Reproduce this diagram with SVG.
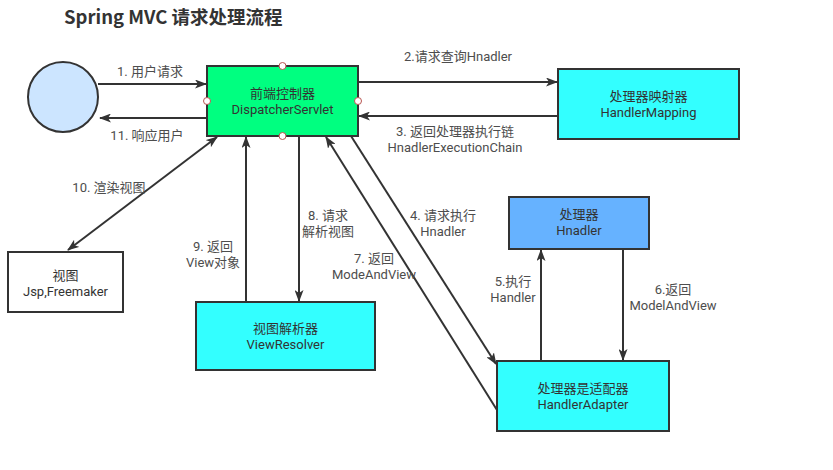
<svg xmlns="http://www.w3.org/2000/svg" width="833" height="470" viewBox="0 0 833 470">
<defs>
<style>
.node{stroke:#333;stroke-width:2}
.nt{font-family:Roboto,"Noto Sans CJK SC",sans-serif;font-size:13px;fill:#333;text-anchor:middle}
.lb{font-family:Roboto,"Noto Sans CJK SC",sans-serif;font-size:13px;fill:#4d4d4d;text-anchor:middle}
.ln{stroke:#333;stroke-width:2;fill:none}
.pt{fill:#fff;stroke:#b85450;stroke-width:1}
</style>
<marker id="ah" viewBox="0 0 12 9" refX="11" refY="4.5" markerWidth="12" markerHeight="9" markerUnits="userSpaceOnUse" orient="auto-start-reverse">
<path d="M0,0 L12,4.5 L0,9 L3,4.5 Z" fill="#333"/>
</marker>
</defs>
<rect width="833" height="470" fill="#fff"/>
<text x="64" y="24" style="font-family:'Noto Sans CJK SC','Noto Sans',sans-serif;font-size:18.5px;font-weight:bold;fill:#333">Spring MVC 请求处理流程</text>

<g id="connectors">
<line class="ln" x1="98" y1="84" x2="206" y2="84" marker-end="url(#ah)"/>
<line class="ln" x1="207" y1="118" x2="100" y2="118" marker-end="url(#ah)"/>
<line class="ln" x1="358" y1="82" x2="557" y2="82" marker-end="url(#ah)"/>
<line class="ln" x1="558" y1="116" x2="359" y2="116" marker-end="url(#ah)"/>
<line class="ln" x1="351" y1="136" x2="496" y2="364" marker-end="url(#ah)"/>
<line class="ln" x1="541" y1="361" x2="541" y2="250" marker-end="url(#ah)"/>
<line class="ln" x1="623" y1="248" x2="623" y2="360" marker-end="url(#ah)"/>
<line class="ln" x1="497" y1="410" x2="326" y2="137" marker-end="url(#ah)"/>
<line class="ln" x1="299" y1="136" x2="299" y2="301" marker-end="url(#ah)"/>
<line class="ln" x1="246" y1="302" x2="246" y2="137" marker-end="url(#ah)"/>
<line class="ln" x1="68" y1="250" x2="217" y2="137" marker-start="url(#ah)" marker-end="url(#ah)"/>
<text class="lb" x="150" y="75.5">1. 用户请求</text>
<text class="lb" x="147" y="139.5">11. 响应用户</text>
<text class="lb" x="458" y="61">2.请求查询Hnadler</text>
<text class="lb" x="455" y="136">3. 返回处理器执行链</text>
<text class="lb" x="455" y="152">HnadlerExecutionChain</text>
<text class="lb" x="443" y="219.5">4. 请求执行</text>
<text class="lb" x="443" y="236">Hnadler</text>
<text class="lb" x="513" y="285.5">5.执行</text>
<text class="lb" x="513" y="301.5">Handler</text>
<text class="lb" x="673" y="293.5">6.返回</text>
<text class="lb" x="673" y="310">ModelAndView</text>
<text class="lb" x="374" y="262.5">7. 返回</text>
<text class="lb" x="374" y="278.5">ModeAndView</text>
<text class="lb" x="328" y="219.5">8. 请求</text>
<text class="lb" x="328" y="235.5">解析视图</text>
<text class="lb" x="213" y="251">9. 返回</text>
<text class="lb" x="213" y="267">View对象</text>
<text class="lb" x="109" y="191.5">10. 渲染视图</text>
</g>

<g id="user">
<circle class="node" cx="63" cy="97" r="35" fill="#cce5ff"/>
</g>

<g id="dispatcher">
<rect class="node" x="207" y="66" width="151" height="70" fill="#00ff80"/>
<text class="nt" x="282.5" y="98">前端控制器</text>
<text class="nt" x="282.5" y="114">DispatcherServlet</text>
<circle class="pt" cx="282.5" cy="66" r="3.5"/>
<circle class="pt" cx="207" cy="101" r="3.5"/>
<circle class="pt" cx="358" cy="101" r="3.5"/>
<circle class="pt" cx="282.5" cy="136" r="3.5"/>
</g>

<g id="handlerMapping">
<rect class="node" x="558" y="69" width="181" height="70" fill="#33ffff"/>
<text class="nt" x="648.5" y="100.5">处理器映射器</text>
<text class="nt" x="648.5" y="116.5">HandlerMapping</text>
</g>

<g id="handler">
<rect class="node" x="509" y="197" width="140" height="52" fill="#66b2ff"/>
<text class="nt" x="579" y="218.5">处理器</text>
<text class="nt" x="579" y="235">Hnadler</text>
</g>

<g id="handlerAdapter">
<rect class="node" x="497" y="361" width="172" height="70" fill="#33ffff"/>
<text class="nt" x="583" y="392.5">处理器是适配器</text>
<text class="nt" x="583" y="408.5">HandlerAdapter</text>
</g>

<g id="viewResolver">
<rect class="node" x="196" y="302" width="179" height="68" fill="#33ffff"/>
<text class="nt" x="285.5" y="332.5">视图解析器</text>
<text class="nt" x="285.5" y="348.5">ViewResolver</text>
</g>

<g id="view">
<rect class="node" x="8" y="252" width="115" height="60" fill="#ffffff"/>
<text class="nt" x="65.5" y="279.5">视图</text>
<text class="nt" x="65.5" y="296">Jsp,Freemaker</text>
</g>
</svg>
